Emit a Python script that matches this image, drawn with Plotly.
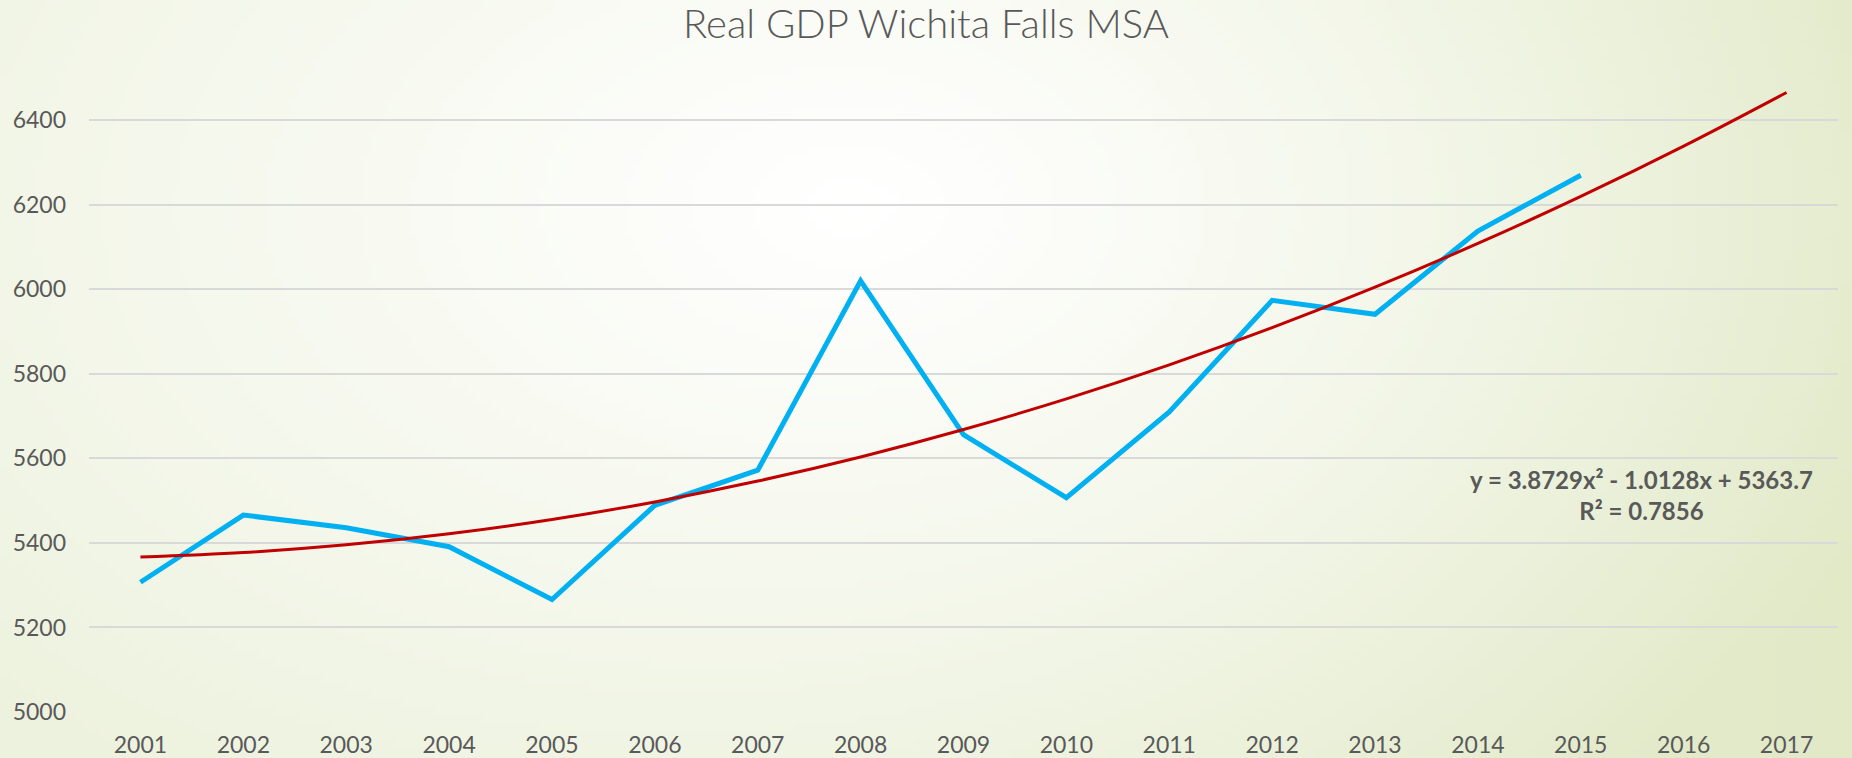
import base64
import struct
import zlib
import plotly.graph_objects as go

# ---------------- data ----------------
years = ["2001", "2002", "2003", "2004", "2005", "2006", "2007", "2008", "2009",
         "2010", "2011", "2012", "2013", "2014", "2015", "2016", "2017"]
gdp_years = years[:15]
gdp_values = [5307, 5466, 5436, 5391, 5266, 5489, 5572, 6020, 5656,
              5507, 5710, 5974, 5941, 6138, 6270]
# polynomial trendline (order 2), as printed on the chart
trend_coef = [3.8729, -1.0128, 5363.7]
trend_label = ["y = 3.8729x² - 1.0128x + 5363.7", "R² = 0.7856"]
y_ticks = [5000, 5200, 5400, 5600, 5800, 6000, 6200, 6400]

trend_x = list(range(1, len(years) + 1))
trend_values = [trend_coef[0] * k * k + trend_coef[1] * k + trend_coef[2] for k in trend_x]

W, H = 1852, 758
ML, MR, MT, MB = 89, 14, 78, 46
PW, PH = W - ML - MR, H - MT - MB


# ---------------- background gradient (PNG built in memory) ----------------
def make_bg(w=232, h=95):
    left = (237, 242, 222)
    right = (225, 233, 199)
    cx, cy, rx, ry = 0.46, 0.27, 0.62, 1.0
    rows = []
    for j in range(h):
        row = bytearray([0])
        fy = j / (h - 1)
        for i in range(w):
            fx = i / (w - 1)
            r = (((fx - cx) / rx) ** 2 + ((fy - cy) / ry) ** 2) ** 0.5
            t = min(r, 1.0) ** 1.1
            ex = [left[c] + (right[c] - left[c]) * fx ** 1.5 for c in range(3)]
            px = [int(round(255 + (ex[c] - 255) * t)) for c in range(3)]
            row.extend(px)
        rows.append(bytes(row))
    raw = b"".join(rows)

    def chunk(tag, data):
        c = struct.pack(">I", len(data)) + tag + data
        return c + struct.pack(">I", zlib.crc32(tag + data) & 0xFFFFFFFF)

    png = b"\x89PNG\r\n\x1a\n"
    png += chunk(b"IHDR", struct.pack(">IIBBBBB", w, h, 8, 2, 0, 0, 0))
    png += chunk(b"IDAT", zlib.compress(raw, 9))
    png += chunk(b"IEND", b"")
    return "data:image/png;base64," + base64.b64encode(png).decode()


bg_src = make_bg()

FONT = "Lato, 'Open Sans', sans-serif"
GREY = "#595959"

fig = go.Figure()
fig.add_trace(go.Scatter(
    x=trend_x[:len(gdp_values)], y=gdp_values, mode="lines",
    line=dict(color="#00b0f0", width=5),
    hoverinfo="x+y", showlegend=False,
))
fig.add_trace(go.Scatter(
    x=trend_x, y=trend_values, mode="lines",
    line=dict(color="#c00000", width=3, shape="spline", smoothing=1),
    hoverinfo="skip", showlegend=False,
))

fig.update_layout(
    template="none",
    width=W, height=H,
    margin=dict(l=ML, r=MR, t=MT, b=MB, autoexpand=False),
    paper_bgcolor="#eef2e0",
    plot_bgcolor="rgba(0,0,0,0)",
    title=dict(
        text="Real GDP Wichita Falls MSA",
        x=0.5, xanchor="center", y=1 - 24 / H, yanchor="middle",
        font=dict(family=FONT, size=40, color=GREY, weight=300),
    ),
    xaxis=dict(
        range=[0.5, len(years) + 0.5],
        tickmode="array", tickvals=trend_x, ticktext=years,
        showgrid=False, zeroline=False, showline=False,
        ticks="", ticklabelstandoff=17, automargin=False,
        tickfont=dict(family=FONT, size=23, color=GREY),
        fixedrange=True,
    ),
    yaxis=dict(
        range=[5000, 6500],
        tickmode="array", tickvals=y_ticks,
        showgrid=True, gridcolor="#d9d9d9", gridwidth=1.5,
        zeroline=False, showline=False, ticks="",
        ticklabelstandoff=22, automargin=False,
        tickfont=dict(family=FONT, size=23, color=GREY),
        fixedrange=True,
    ),
    images=[dict(
        source=bg_src, xref="paper", yref="paper",
        x=-ML / PW, y=1 + MT / PH, sizex=W / PW, sizey=H / PH,
        xanchor="left", yanchor="top", sizing="stretch", layer="below",
    )],
    annotations=[dict(
        text="<b>" + trend_label[0] + "</b><br><b>" + trend_label[1] + "</b>",
        xref="x", yref="y", x=15.59, y=5513,
        xanchor="center", yanchor="middle", align="center",
        showarrow=False,
        font=dict(family=FONT, size=24, color=GREY),
    )],
)

fig.write_html(
    "out.html",
    config={"displayModeBar": False},
    post_script="document.body.style.margin='0';document.body.style.overflow='hidden';"
                "document.body.style.background='#eef2e0';",
)
